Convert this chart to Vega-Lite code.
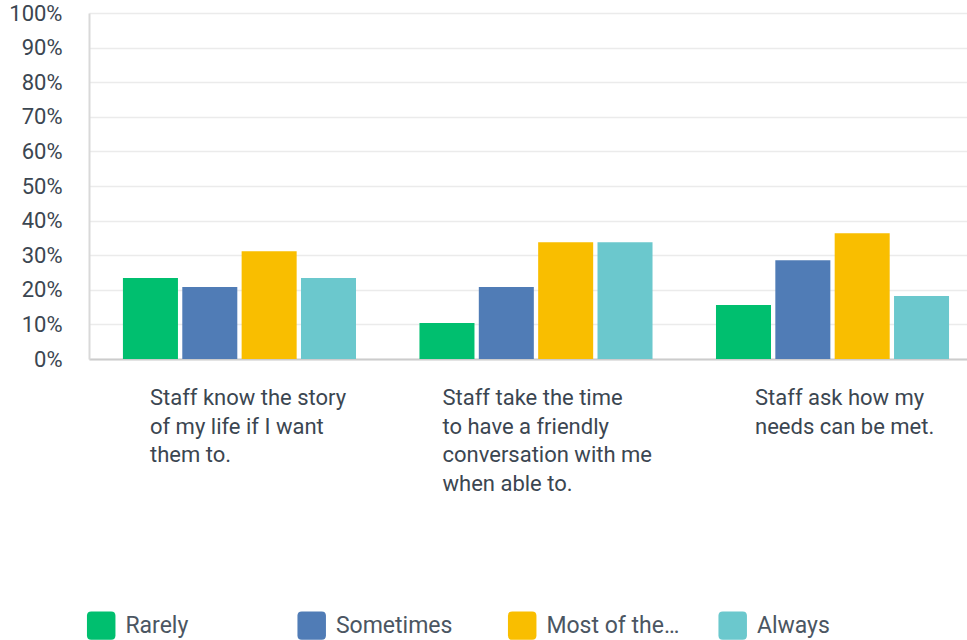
{
  "$schema": "https://vega.github.io/schema/vega-lite/v6.json",
  "width": 878,
  "height": 346,
  "autosize": "none",
  "padding": {"left": 89, "top": 13, "right": 0, "bottom": 281},
  "background": "white",
  "data": {
    "values": [
      {"question": "Staff know the story of my life if I want them to.", "response": "Rarely", "pct": 23.38},
      {"question": "Staff know the story of my life if I want them to.", "response": "Sometimes", "pct": 20.78},
      {"question": "Staff know the story of my life if I want them to.", "response": "Most of the time", "pct": 31.17},
      {"question": "Staff know the story of my life if I want them to.", "response": "Always", "pct": 23.38},
      {"question": "Staff take the time to have a friendly conversation with me when able to.", "response": "Rarely", "pct": 10.39},
      {"question": "Staff take the time to have a friendly conversation with me when able to.", "response": "Sometimes", "pct": 20.78},
      {"question": "Staff take the time to have a friendly conversation with me when able to.", "response": "Most of the time", "pct": 33.77},
      {"question": "Staff take the time to have a friendly conversation with me when able to.", "response": "Always", "pct": 33.77},
      {"question": "Staff ask how my needs can be met.", "response": "Rarely", "pct": 15.58},
      {"question": "Staff ask how my needs can be met.", "response": "Sometimes", "pct": 28.57},
      {"question": "Staff ask how my needs can be met.", "response": "Most of the time", "pct": 36.36},
      {"question": "Staff ask how my needs can be met.", "response": "Always", "pct": 18.18}
    ]
  },
  "mark": {"type": "bar"},
  "encoding": {
    "x": {
      "field": "question",
      "type": "nominal",
      "sort": [
        "Staff know the story of my life if I want them to.",
        "Staff take the time to have a friendly conversation with me when able to.",
        "Staff ask how my needs can be met."
      ],
      "scale": {"paddingInner": 0.214, "paddingOuter": 0.0875, "align": 0.654},
      "axis": {
        "title": null,
        "labelAngle": 0,
        "ticks": false,
        "tickSize": 0,
        "grid": false,
        "domain": true,
        "domainColor": "#cccccc",
        "domainWidth": 2.2,
        "labelFont": "Roboto",
        "labelFontSize": 22,
        "labelColor": "#3b4651",
        "labelAlign": "left",
        "labelBaseline": "top",
        "labelPadding": 28.5,
        "labelLineHeight": 28.7,
        "labelLimit": 500,
        "labelOffset": {
          "condition": [
            {"test": "datum.value == 'Staff know the story of my life if I want them to.'", "value": -89.5},
            {"test": "datum.value == 'Staff take the time to have a friendly conversation with me when able to.'", "value": -93.5}
          ],
          "value": -77.5
        },
        "labelExpr": "datum.value == 'Staff know the story of my life if I want them to.' ? ['Staff know the story', 'of my life if I want', 'them to.'] : datum.value == 'Staff take the time to have a friendly conversation with me when able to.' ? ['Staff take the time', 'to have a friendly', 'conversation with me', 'when able to.'] : ['Staff ask how my', 'needs can be met.']"
      }
    },
    "xOffset": {
      "field": "response",
      "type": "nominal",
      "sort": ["Rarely", "Sometimes", "Most of the time", "Always"],
      "scale": {"paddingInner": 0.073, "paddingOuter": 0}
    },
    "y": {
      "field": "pct",
      "type": "quantitative",
      "scale": {"domain": [0, 100]},
      "axis": {
        "title": null,
        "values": [0, 10, 20, 30, 40, 50, 60, 70, 80, 90, 100],
        "labelExpr": "datum.value + '%'",
        "ticks": false,
        "tickSize": 0,
        "grid": true,
        "gridColor": "#ebebeb",
        "gridWidth": 1.6,
        "domain": true,
        "domainColor": "#d9d9d9",
        "domainWidth": 2,
        "labelFont": "Roboto",
        "labelFontSize": 22,
        "labelColor": "#3b4651",
        "labelPadding": 27,
        "labelBaseline": "middle"
      }
    },
    "color": {
      "field": "response",
      "type": "nominal",
      "sort": ["Rarely", "Sometimes", "Most of the time", "Always"],
      "scale": {
        "domain": ["Rarely", "Sometimes", "Most of the time", "Always"],
        "range": ["#00BF6F", "#507CB6", "#F9BE00", "#6BC8CD"]
      },
      "legend": {
        "title": null,
        "orient": "none",
        "legendX": -2.3,
        "legendY": 598,
        "direction": "horizontal",
        "columns": 4,
        "gridAlign": "all",
        "columnPadding": 38.5,
        "padding": 0,
        "symbolType": "M -0.7 -1 L 0.7 -1 Q 1 -1 1 -0.7 L 1 0.7 Q 1 1 0.7 1 L -0.7 1 Q -1 1 -1 0.7 L -1 -0.7 Q -1 -1 -0.7 -1 Z",
        "symbolSize": 812,
        "symbolStrokeWidth": 0,
        "symbolOpacity": 1,
        "labelFont": "Roboto",
        "labelFontSize": 23,
        "labelColor": "#4b5662",
        "labelOffset": 9.7,
        "labelLimit": 300,
        "labelExpr": "datum.label == 'Most of the time' ? 'Most of the…' : datum.label"
      }
    }
  },
  "config": {"view": {"stroke": null}}
}
